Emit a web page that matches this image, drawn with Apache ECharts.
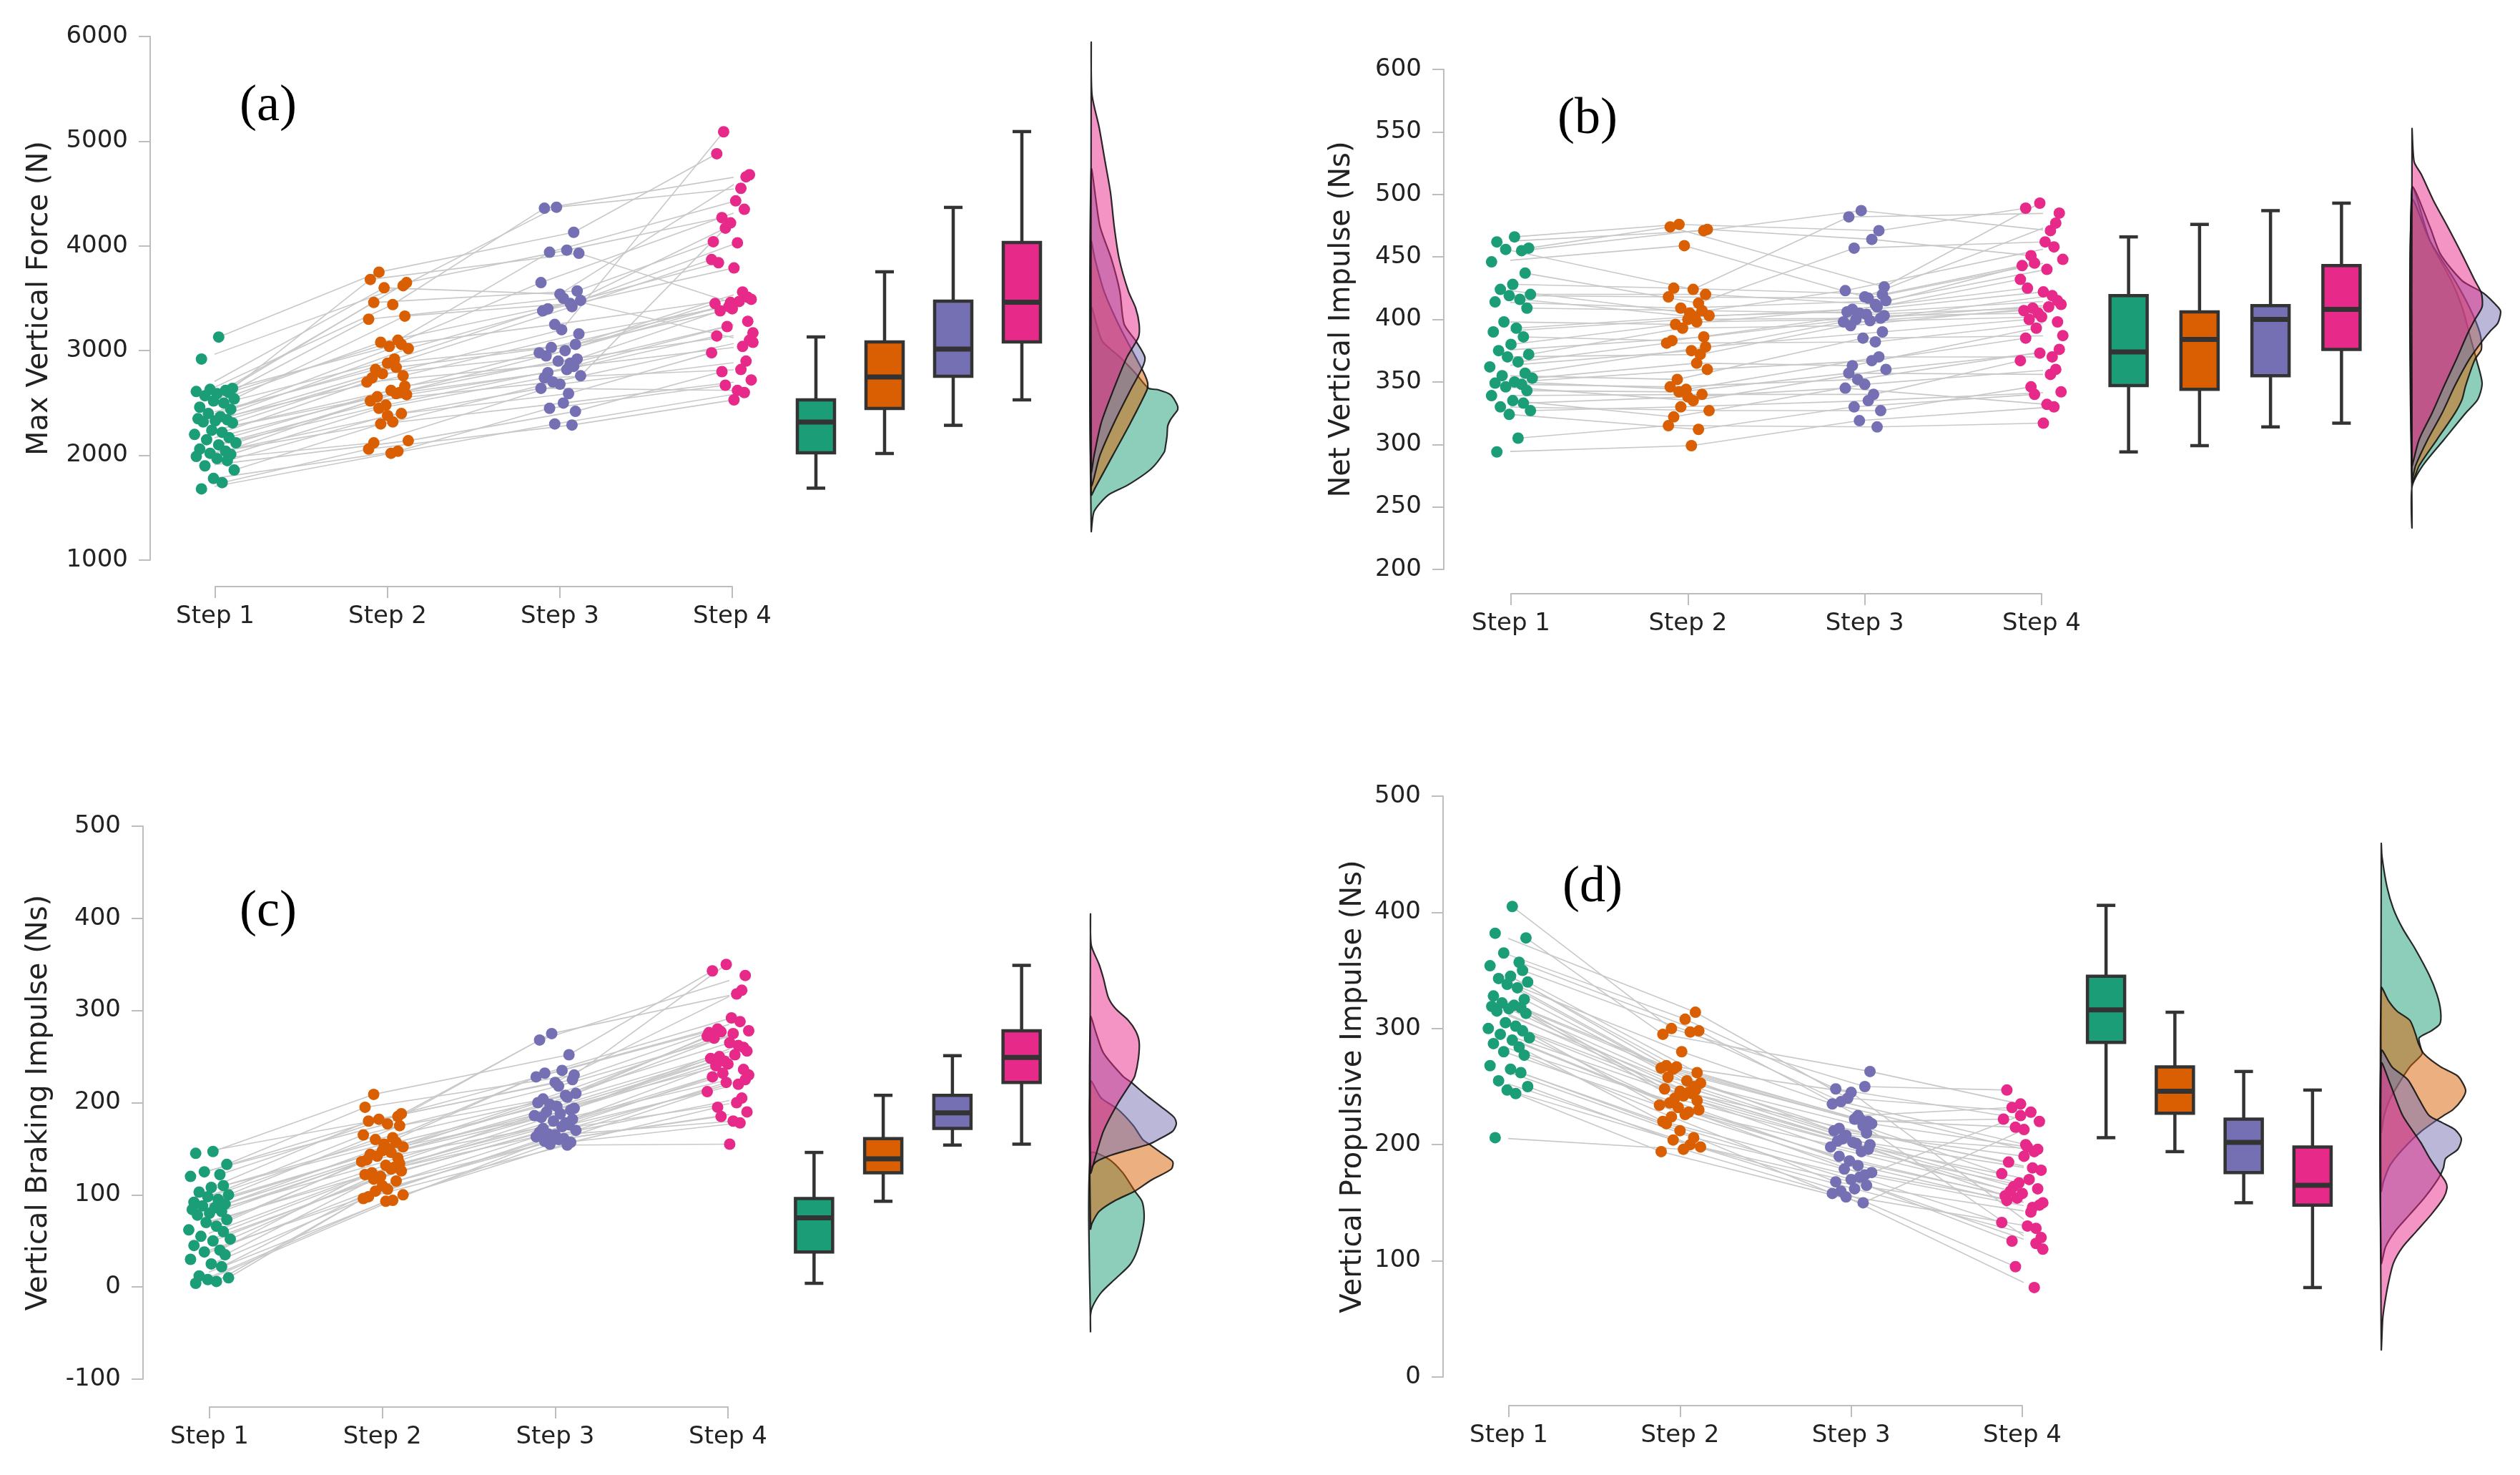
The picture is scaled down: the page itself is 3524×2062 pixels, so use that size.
<!DOCTYPE html>
<html>
<head>
<meta charset="utf-8">
<script src="https://cdn.jsdelivr.net/npm/echarts@6/dist/echarts.min.js"></script>
<style>
  html, body { margin: 0; padding: 0; background: #fff; }
  #chart { width: 3524px; height: 2062px; }
</style>
</head>
<body>
<div id="chart"></div>
<script>
const steps = ['Step 1', 'Step 2', 'Step 3', 'Step 4'];
const stepColors = ['#1b9e77', '#d95f02', '#7570b3', '#e7298a'];
const densityFills = ['rgba(27,158,119,0.5)', 'rgba(217,95,2,0.5)', 'rgba(117,112,179,0.5)', 'rgba(231,41,138,0.5)'];

// horizontal jitter of each subject's dot (in step units)
const jitterStep1 = [0.02,-0.08,0.10,-0.03,0.06,-0.11,0.08,0.01,-0.06,0.11,-0.01,0.05,-0.09,0.09,-0.04,0.03,-0.10,0.07,0.00,-0.07,0.10,-0.02,0.04,-0.12,0.08,-0.05,0.12,0.02,-0.09,0.06,-0.03,0.09,-0.11,0.01,0.07,-0.06,0.11,-0.01,0.04,-0.08];
const jitterStep2 = [-0.05,0.09,-0.10,0.03,0.11,-0.02,0.06,-0.08,0.01,0.10,-0.11,0.04,-0.04,0.08,-0.07,0.12,0.00,-0.09,0.05,0.09,-0.03,0.07,-0.12,0.02,0.10,-0.06,0.05,-0.01,0.11,-0.10,0.03,-0.05,0.08,-0.08,0.00,0.12,-0.04,0.06,-0.11,0.02];
const jitterStep3 = [0.08,-0.02,0.11,-0.09,0.04,0.00,-0.06,0.10,-0.11,0.06,0.02,-0.07,0.12,-0.03,0.07,-0.10,0.09,0.01,-0.05,0.11,-0.08,0.03,0.06,-0.12,0.10,-0.01,-0.07,0.08,0.04,-0.04,0.12,-0.09,0.05,0.00,-0.11,0.09,0.02,-0.06,0.07,-0.03];
const jitterStep4 = [-0.09,0.05,-0.01,0.10,-0.06,0.08,0.02,-0.11,0.07,-0.04,0.12,-0.08,0.03,0.09,-0.12,0.01,0.06,-0.05,0.11,-0.02,0.04,-0.10,0.09,0.00,-0.07,0.12,-0.03,0.06,-0.09,0.10,-0.01,0.05,-0.12,0.08,0.03,-0.06,0.11,-0.04,0.01,0.07];

// (a) Max Vertical Force (N), one value per subject
const forceStep1 = [3130,2920,2640,2630,2620,2610,2600,2590,2570,2540,2520,2500,2460,2440,2400,2370,2350,2340,2330,2320,2310,2240,2220,2200,2170,2150,2120,2100,2060,2040,2020,2010,1990,1970,1950,1900,1860,1780,1740,1680];
const forceStep2 = [3750,3620,3680,3440,3650,3600,3100,3460,3040,3330,3300,2920,3080,3060,2820,3020,2880,2740,2840,2760,2780,2600,2700,2620,2660,2560,2590,2480,2580,2520,2320,2450,2400,2120,2380,2140,2300,2040,2060,2020];
const forceStep3 = [4130,4370,3930,4360,3960,3540,3940,3570,3650,3450,3500,3400,3480,3250,3420,3380,3060,3200,3030,3160,2950,3000,2880,2980,2920,2900,2790,2850,2820,2700,2760,2740,2590,2680,2640,2420,2500,2450,2290,2300];
const forceStep4 = [4880,4550,3460,4680,4270,4660,4430,4040,4350,4170,3080,3840,4030,3510,3870,3790,3560,5090,3490,3420,3470,3450,3280,3400,3380,3170,3230,3040,3140,3100,4220,2820,2980,2900,2620,2800,2720,2670,2530,2600];
// box: [min, Q1, median, Q3, max]
const forceBox = [[1687,2025,2318,2530,3131],[2018,2448,2749,3083,3753],[2287,2755,3015,3473,4368],[2530,3083,3462,4033,5092]];
// density outlines: [value, density]
const forceDensGreen = [[3410,0],[3096,15],[2939,40],[2783,62],[2642,80],[2626,94],[2579,111],[2485,120],[2438,121],[2390,116],[2343,111],[2280,107],[2186,106],[2092,104],[2030,102],[1873,84],[1716,51],[1622,24],[1465,4],[1277,0]];
const forceDensOrange = [[4040,0],[3880,5],[3566,18],[3253,38],[2939,62],[2783,74],[2689,79],[2626,78],[2312,55],[1998,30],[1684,5],[1622,0]];
const forceDensPurple = [[4726,0],[4193,12],[3880,28],[3566,40],[3253,46],[3096,62],[2939,75],[2845,72],[2626,55],[2312,32],[1998,12],[1716,0]];
const forceDensPink = [[5934,0],[5448,1],[5134,11],[4820,19],[4507,27],[4193,32],[3880,39],[3566,52],[3410,62],[3253,67],[3128,66],[2939,50],[2626,31],[2312,14],[1998,4],[1842,0]];

// (b) Net Vertical Impulse (Ns)
const netStep1 = [466,462,457,456,455,446,437,428,424,420,419,416,414,409,398,393,390,386,380,375,372,370,366,362,357,355,353,350,349,348,346,343,339,335,333,330,327,324,305,294];
const netStep2 = [476,471,474,424,472,459,413,425,405,420,418,402,409,407,396,403,400,383,398,386,393,372,381,375,378,352,365,344,360,346,335,342,340,322,338,327,330,312,315,299];
const netStep3 = [471,487,426,482,464,418,457,420,423,412,417,408,415,405,410,406,401,404,400,403,395,399,382,398,390,385,363,370,367,352,360,357,340,348,345,327,335,330,314,319];
const netStep4 = [489,471,493,485,451,477,462,443,458,445,448,425,440,415,432,422,419,409,412,405,410,407,398,402,400,387,393,370,385,376,373,356,367,360,332,346,342,340,317,330];
const netBox = [[294,347,374,419,466],[299,344,384,406,476],[314,355,400,411,487],[317,376,408,443,493]];
const netDensGreen = [[505,0],[463,25],[431,55],[410,70],[389,80],[368,90],[349,98],[336,92],[325,75],[304,45],[283,15],[266,0],[234,0]];
const netDensOrange = [[495,0],[463,25],[431,60],[410,80],[389,95],[376,97],[368,88],[347,75],[336,70],[325,60],[304,35],[283,10],[270,0]];
const netDensPurple = [[505,0],[474,25],[452,40],[431,70],[421,100],[410,120],[406,124],[397,120],[391,110],[384,100],[368,80],[347,60],[325,42],[304,22],[283,5],[272,0]];
const netDensPink = [[552,0],[526,3],[516,13],[495,30],[474,50],[452,70],[431,88],[421,97],[410,98],[400,88],[389,78],[368,62],[347,45],[325,28],[304,10],[287,2],[283,0]];

// (c) Vertical Braking Impulse (Ns)
const brakeStep1 = [147,145,133,125,122,120,110,108,103,100,98,95,92,90,88,86,84,82,80,78,73,70,66,62,60,55,52,50,45,40,38,35,30,25,22,12,10,8,6,4];
const brakeStep2 = [209,185,195,177,188,182,162,180,155,175,165,150,160,157,144,152,148,138,146,140,142,130,136,132,134,124,128,120,126,122,106,117,115,98,110,100,104,94,96,93];
const brakeStep3 = [252,275,230,268,235,222,232,225,228,208,218,204,210,198,206,200,192,196,190,194,184,188,178,186,182,180,172,176,174,166,170,168,161,165,163,157,160,158,154,155];
const brakeStep4 = [343,318,350,338,280,322,292,276,288,277,278,270,275,260,272,265,262,250,256,245,252,248,236,242,240,230,232,220,228,225,222,200,212,205,180,195,190,185,155,178];
const brakeBox = [[4,38,75,96,146],[93,124,139,161,208],[154,172,189,208,251],[155,222,249,278,349]];
const brakeDensGreen = [[145,0],[139,25],[124,45],[104,62],[93,72],[78,75],[63,73],[39,65],[24,55],[9,35],[-6,15],[-21,3],[-30,0],[-48,0]];
const brakeDensOrange = [[223,0],[205,15],[193,38],[175,60],[160,73],[155,82],[145,100],[136,115],[128,113],[116,85],[104,62],[94,35],[82,12],[69,2],[63,0]];
const brakeDensPurple = [[293,0],[275,8],[254,18],[229,45],[222,57],[208,78],[196,98],[184,117],[177,120],[169,115],[160,95],[155,82],[148,50],[142,25],[136,8],[130,0]];
const brakeDensPink = [[404,0],[371,1],[350,12],[335,18],[314,25],[302,35],[290,52],[278,63],[266,68],[248,67],[229,62],[222,57],[199,38],[169,18],[139,6],[124,0]];

// (d) Vertical Propulsive Impulse (Ns)
const propStep1 = [405,382,378,365,357,354,350,345,343,340,338,335,328,325,322,320,319,318,317,315,313,305,302,300,298,295,292,290,287,284,280,277,268,265,262,255,250,247,244,206];
const propStep2 = [300,314,295,308,298,267,297,268,280,262,266,255,265,250,258,253,246,248,245,247,240,244,234,242,238,236,228,232,230,220,226,224,206,218,212,198,204,200,194,196];
const propStep3 = [250,240,263,248,225,245,237,220,235,221,222,214,218,208,216,212,210,202,205,200,203,201,194,198,196,186,190,174,182,179,176,168,172,170,158,165,162,160,150,155];
const propStep4 = [247,228,235,220,232,128,200,222,194,215,110,185,198,196,175,190,180,164,178,167,170,156,162,158,160,150,154,146,152,148,225,142,133,115,130,117,120,95,213,77];
const propBox = [[206,288,316,345,406],[194,227,246,267,314],[150,176,202,222,263],[77,148,165,198,247]];
const propDensGreen = [[459,0],[448,1],[422,8],[403,17],[386,30],[369,47],[346,67],[329,78],[315,83],[304,82],[298,70],[292,53],[284,55],[278,57],[267,40],[253,25],[239,12],[225,4],[211,0]];
const propDensOrange = [[335,0],[324,10],[315,22],[307,40],[295,48],[287,52],[278,60],[267,83],[259,107],[247,118],[239,113],[230,100],[225,87],[211,55],[196,30],[182,12],[168,3],[160,0]];
const propDensPurple = [[281,0],[267,15],[256,37],[239,53],[225,67],[219,85],[213,103],[205,112],[196,107],[188,90],[180,87],[171,80],[154,60],[140,40],[126,20],[112,6],[98,0]];
const propDensPink = [[270,0],[253,12],[225,30],[202,55],[188,68],[177,80],[168,90],[163,92],[154,87],[140,70],[126,50],[112,30],[98,17],[81,10],[64,5],[50,2],[24,0]];

const jitter = [jitterStep1, jitterStep2, jitterStep3, jitterStep4];

const panels = [
  { tag: '(a)', title: 'Max Vertical Force (N)', min: 1000, max: 6000, step: 1000,
    values: [forceStep1, forceStep2, forceStep3, forceStep4], box: forceBox,
    dens: [forceDensGreen, forceDensOrange, forceDensPurple, forceDensPink],
    top: 51, height: 732, plot: [301, 723], boxGrid: [1093, 384], densGrid: [1526, 140],
    xOff: 37, yOff: 91, nameGap: 134, tagPos: [375, 155] },
  { tag: '(b)', title: 'Net Vertical Impulse (Ns)', min: 200, max: 600, step: 50,
    values: [netStep1, netStep2, netStep3, netStep4], box: netBox,
    dens: [netDensGreen, netDensOrange, netDensPurple, netDensPink],
    top: 97, height: 699, plot: [2113, 742], boxGrid: [2927, 397], densGrid: [3373, 140],
    xOff: 34, yOff: 94, nameGap: 122, tagPos: [2218, 173] },
  { tag: '(c)', title: 'Vertical Braking Impulse (Ns)', min: -100, max: 500, step: 100,
    values: [brakeStep1, brakeStep2, brakeStep3, brakeStep4], box: brakeBox,
    dens: [brakeDensGreen, brakeDensOrange, brakeDensPurple, brakeDensPink],
    top: 1155, height: 773, plot: [293, 725], boxGrid: [1090, 387], densGrid: [1525, 140],
    xOff: 39, yOff: 93, nameGap: 125, tagPos: [375, 1281] },
  { tag: '(d)', title: 'Vertical Propulsive Impulse (Ns)', min: 0, max: 500, step: 100,
    values: [propStep1, propStep2, propStep3, propStep4], box: propBox,
    dens: [propDensGreen, propDensOrange, propDensPurple, propDensPink],
    top: 1113, height: 812, plot: [2110, 718], boxGrid: [2897, 385], densGrid: [3330, 140],
    xOff: 40, yOff: 92, nameGap: 105, tagPos: [2225, 1247] }
];

const FONT = 'DejaVu Sans';
const AXIS_GRAY = '#bdbdbd';

const option = {
  animation: false,
  backgroundColor: '#fff',
  grid: [], xAxis: [], yAxis: [], series: [], graphic: []
};

panels.forEach((p) => {
  const g = option.grid.length;
  option.grid.push({ left: p.plot[0], top: p.top, width: p.plot[1], height: p.height, outerBoundsMode: 'none' });
  option.grid.push({ left: p.boxGrid[0], top: p.top, width: p.boxGrid[1], height: p.height, outerBoundsMode: 'none' });
  option.grid.push({ left: p.densGrid[0], top: p.top, width: p.densGrid[1], height: p.height, outerBoundsMode: 'none' });

  option.xAxis.push({
    gridIndex: g, type: 'value', min: 1, max: 4, interval: 1, offset: p.xOff,
    axisLine: { show: true, onZero: false, lineStyle: { color: AXIS_GRAY, width: 2 } },
    axisTick: { show: true, length: 16, lineStyle: { color: AXIS_GRAY, width: 2 } },
    axisLabel: { formatter: (v) => steps[v - 1], fontFamily: FONT, fontSize: 34, color: '#222', margin: 25 },
    splitLine: { show: false }
  });
  option.xAxis.push({ gridIndex: g + 1, type: 'category', data: steps, show: false });
  option.xAxis.push({ gridIndex: g + 2, type: 'value', min: 0, max: p.densGrid[1], show: false });

  option.yAxis.push({
    gridIndex: g, type: 'value', min: p.min, max: p.max, interval: p.step, offset: p.yOff,
    name: p.title, nameLocation: 'middle', nameGap: p.nameGap, nameMoveOverlap: false,
    nameTextStyle: { fontFamily: FONT, fontSize: 40, color: '#222' },
    axisLine: { show: true, onZero: false, lineStyle: { color: AXIS_GRAY, width: 2 } },
    axisTick: { show: true, length: 16, lineStyle: { color: AXIS_GRAY, width: 2 } },
    axisLabel: { formatter: (v) => String(v), fontFamily: FONT, fontSize: 34, color: '#222', margin: 31 },
    splitLine: { show: false }
  });
  option.yAxis.push({ gridIndex: g + 1, type: 'value', min: p.min, max: p.max, show: false });
  option.yAxis.push({ gridIndex: g + 2, type: 'value', min: p.min, max: p.max, show: false });

  // grey lines joining each subject's four steps
  p.values[0].forEach((_, i) => {
    option.series.push({
      type: 'line', xAxisIndex: g, yAxisIndex: g, clip: false, silent: true,
      showSymbol: false, symbol: 'none', z: 1,
      lineStyle: { color: '#c8c8c8', width: 1.6 },
      data: p.values.map((vals, s) => [s + 1 + jitter[s][i], vals[i]])
    });
  });

  // coloured dots
  p.values.forEach((vals, s) => {
    option.series.push({
      type: 'scatter', xAxisIndex: g, yAxisIndex: g, clip: false, z: 3,
      symbolSize: 16, itemStyle: { color: stepColors[s], opacity: 1 },
      data: vals.map((v, i) => [s + 1 + jitter[s][i], v])
    });
  });

  // box plots
  option.series.push({
    type: 'custom', xAxisIndex: g + 1, yAxisIndex: g + 1, z: 3,
    encode: { x: 0, y: [1, 2, 3, 4, 5] },
    data: p.box.map((b, i) => [i].concat(b)),
    renderItem: (params, api) => {
      const c = api.value(0);
      const lo = api.coord([c, api.value(1)]);
      const q1 = api.coord([c, api.value(2)]);
      const md = api.coord([c, api.value(3)]);
      const q3 = api.coord([c, api.value(4)]);
      const hi = api.coord([c, api.value(5)]);
      const x = lo[0], bw = 52, cw = 26;
      const st = { stroke: '#333', lineWidth: 4.5 };
      return {
        type: 'group',
        children: [
          { type: 'line', shape: { x1: x, y1: hi[1], x2: x, y2: q3[1] }, style: st },
          { type: 'line', shape: { x1: x, y1: q1[1], x2: x, y2: lo[1] }, style: st },
          { type: 'line', shape: { x1: x - cw / 2, y1: hi[1], x2: x + cw / 2, y2: hi[1] }, style: st },
          { type: 'line', shape: { x1: x - cw / 2, y1: lo[1], x2: x + cw / 2, y2: lo[1] }, style: st },
          { type: 'rect', shape: { x: x - bw / 2, y: q3[1], width: bw, height: q1[1] - q3[1] },
            style: { fill: stepColors[params.dataIndex], stroke: '#333', lineWidth: 4.5 } },
          { type: 'line', shape: { x1: x - bw / 2, y1: md[1], x2: x + bw / 2, y2: md[1] },
            style: { stroke: '#333', lineWidth: 7 } }
        ]
      };
    }
  });

  // half-violin densities
  option.series.push({
    type: 'custom', xAxisIndex: g + 2, yAxisIndex: g + 2, z: 2,
    data: p.dens.map((_, i) => [i, p.min]),
    renderItem: (params, api) => {
      const curve = p.dens[params.dataIndex];
      const pts = curve.map((d) => api.coord([d[1], d[0]]));
      return {
        type: 'polygon',
        shape: { points: pts, smooth: 0.25 },
        style: { fill: densityFills[params.dataIndex], stroke: 'rgba(20,20,20,0.9)', lineWidth: 2.2 }
      };
    }
  });

  option.graphic.push({
    type: 'text', left: p.tagPos[0] - 40, top: p.tagPos[1] - 42,
    style: { text: p.tag, font: '72px "Liberation Serif"', fill: '#000' }
  });
});

const chart = echarts.init(document.getElementById('chart'), null, { renderer: 'canvas' });
chart.setOption(option);
</script>
</body>
</html>
